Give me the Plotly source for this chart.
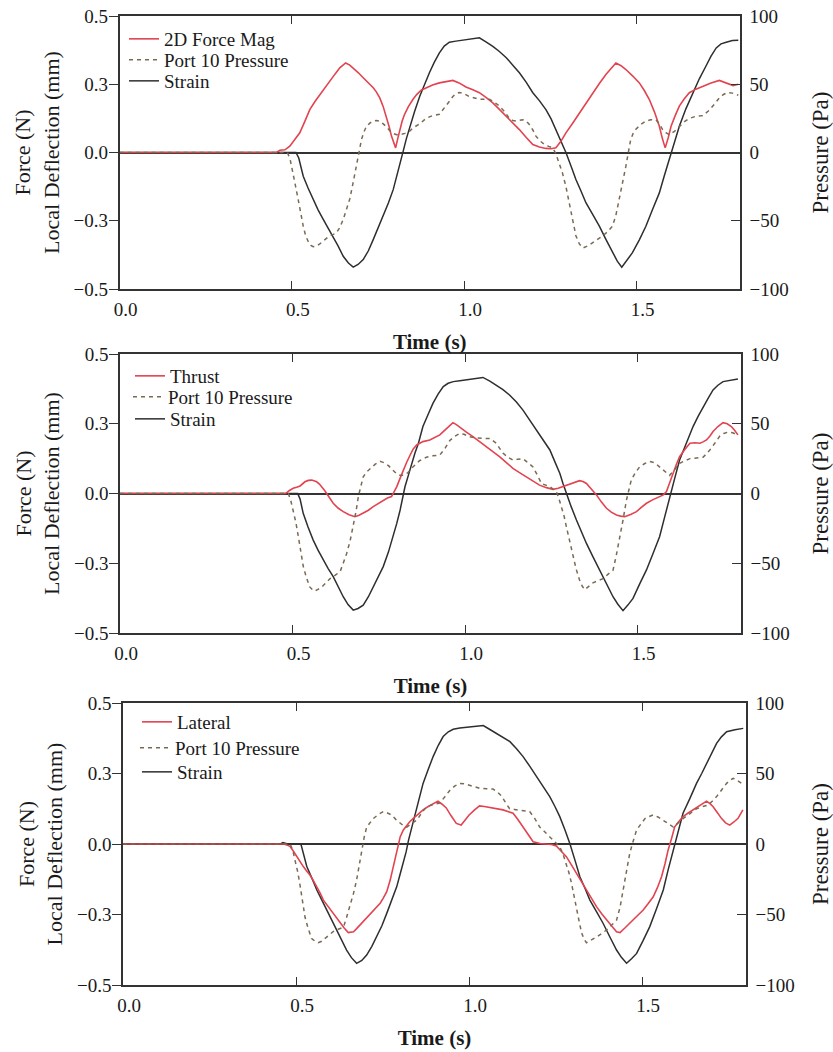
import plotly.graph_objects as go

# ---------------- data (time in s, force N / deflection mm, pressure Pa) ----------------
# Panel 1: 2D force magnitude
t_force_mag = [0.0, 0.455, 0.465, 0.48, 0.494, 0.508, 0.523, 0.538, 0.552, 0.567, 0.581, 0.596, 0.61, 0.625,
               0.639, 0.656, 0.668, 0.678, 0.693, 0.707, 0.722, 0.736, 0.745, 0.755, 0.765, 0.774, 0.782, 0.789,
               0.796, 0.801, 0.807, 0.813, 0.82, 0.827, 0.838, 0.851, 0.862, 0.875, 0.889, 0.908, 0.928, 0.947,
               0.967, 0.985, 1.005, 1.025, 1.044, 1.063, 1.083, 1.102, 1.122, 1.141, 1.16, 1.18, 1.199, 1.218,
               1.237, 1.252, 1.266, 1.28, 1.295, 1.315, 1.334, 1.353, 1.373, 1.392, 1.411, 1.426, 1.44, 1.455,
               1.469, 1.489, 1.508, 1.522, 1.537, 1.552, 1.566, 1.575, 1.583, 1.592, 1.6, 1.612, 1.624, 1.638,
               1.653, 1.672, 1.692, 1.716, 1.74, 1.76, 1.78, 1.795]
force_mag = [0.0, 0.0, 0.008, 0.01, 0.023, 0.045, 0.072, 0.115, 0.157, 0.187, 0.212, 0.238, 0.261, 0.287,
             0.31, 0.328, 0.32, 0.31, 0.292, 0.274, 0.256, 0.237, 0.222, 0.2, 0.168, 0.133, 0.095, 0.06,
             0.03, 0.017, 0.05, 0.084, 0.115, 0.14, 0.168, 0.194, 0.212, 0.228, 0.237, 0.247, 0.255, 0.26,
             0.264, 0.255, 0.24, 0.23, 0.219, 0.202, 0.182, 0.158, 0.133, 0.108, 0.084, 0.055, 0.029, 0.02,
             0.015, 0.014, 0.017, 0.04, 0.072, 0.108, 0.145, 0.182, 0.219, 0.253, 0.286, 0.308, 0.328, 0.318,
             0.304, 0.28, 0.255, 0.228, 0.194, 0.148, 0.096, 0.05, 0.017, 0.055, 0.096, 0.135, 0.17, 0.196,
             0.219, 0.232, 0.243, 0.255, 0.264, 0.255, 0.245, 0.25]

t_strain1 = [0.0, 0.512, 0.52, 0.533, 0.547, 0.562, 0.576, 0.591, 0.605, 0.62, 0.634, 0.649, 0.664, 0.678,
             0.692, 0.707, 0.722, 0.736, 0.75, 0.765, 0.78, 0.794, 0.803, 0.813, 0.823, 0.832, 0.842, 0.856,
             0.871, 0.885, 0.899, 0.913, 0.928, 0.942, 0.957, 0.976, 0.996, 1.02, 1.044, 1.063, 1.083, 1.102,
             1.122, 1.141, 1.16, 1.18, 1.199, 1.218, 1.237, 1.252, 1.266, 1.28, 1.295, 1.31, 1.324, 1.339,
             1.353, 1.373, 1.392, 1.411, 1.43, 1.444, 1.457, 1.472, 1.488, 1.508, 1.527, 1.546, 1.566, 1.58,
             1.595, 1.61, 1.624, 1.643, 1.663, 1.682, 1.701, 1.716, 1.731, 1.745, 1.76, 1.778, 1.795]
strain1 = [0.0, 0.0, -0.02, -0.087, -0.13, -0.172, -0.21, -0.245, -0.276, -0.306, -0.342, -0.38, -0.405, -0.42,
           -0.41, -0.392, -0.36, -0.319, -0.277, -0.233, -0.185, -0.136, -0.095, -0.05, 0.005, 0.05, 0.096, 0.15,
           0.206, 0.25, 0.292, 0.33, 0.365, 0.39, 0.404, 0.408, 0.411, 0.414, 0.42, 0.405, 0.389, 0.37,
           0.347, 0.32, 0.292, 0.257, 0.219, 0.19, 0.157, 0.123, 0.084, 0.045, 0.0, -0.05, -0.099, -0.142,
           -0.184, -0.228, -0.27, -0.318, -0.367, -0.398, -0.42, -0.395, -0.367, -0.32, -0.27, -0.21, -0.148, -0.087,
           -0.026, 0.035, 0.096, 0.16, 0.219, 0.27, 0.316, 0.353, 0.383, 0.398, 0.404, 0.41, 0.411]

t_pressure1 = [0.0, 0.487, 0.495, 0.504, 0.511, 0.518, 0.525, 0.533, 0.54, 0.547, 0.555, 0.562, 0.571, 0.581,
               0.595, 0.61, 0.62, 0.629, 0.639, 0.649, 0.658, 0.668, 0.677, 0.687, 0.695, 0.702, 0.709, 0.716,
               0.726, 0.736, 0.745, 0.755, 0.765, 0.774, 0.784, 0.794, 0.804, 0.813, 0.828, 0.842, 0.851, 0.871,
               0.889, 0.908, 0.928, 0.938, 0.947, 0.957, 0.967, 0.976, 0.986, 1.0, 1.015, 1.03, 1.044, 1.058,
               1.073, 1.087, 1.102, 1.117, 1.131, 1.141, 1.15, 1.16, 1.17, 1.18, 1.189, 1.199, 1.208, 1.22,
               1.232, 1.245, 1.257, 1.266, 1.276, 1.285, 1.295, 1.303, 1.31, 1.317, 1.324, 1.334, 1.344, 1.358,
               1.373, 1.387, 1.402, 1.416, 1.43, 1.44, 1.45, 1.46, 1.469, 1.476, 1.483, 1.49, 1.498, 1.512,
               1.527, 1.541, 1.556, 1.566, 1.575, 1.585, 1.595, 1.61, 1.624, 1.638, 1.653, 1.672, 1.692, 1.701,
               1.711, 1.726, 1.74, 1.752, 1.764, 1.778, 1.795]
pressure1 = [0, 0, -5, -15, -25, -34, -44, -54, -61, -65, -68, -69, -68.5, -67,
             -64, -61, -60, -59, -55, -49, -42, -34, -23, -10, 0, 9.5, 15, 19,
             21.5, 23, 23.5, 23, 21, 19, 16, 14, 13, 13, 14, 15.6, 18, 21,
             25, 27, 28, 31, 34, 37.5, 41, 43, 44, 43, 41, 40, 39, 39,
             39, 37, 34, 30, 25, 23.5, 23, 23.5, 24, 23, 20.5, 16.5, 12, 8.5,
             6, 4.5, 3.4, -1, -7.6, -15, -25, -35, -44, -53, -61, -67, -70, -68.5,
             -66, -63.5, -61, -58, -54, -46, -34, -22, -10, 0, 9.5, 14, 17, 20.5,
             23, 24, 24, 21, 17, 14.5, 13, 15.5, 19, 22.5, 25, 26.5, 27, 29,
             31, 35.5, 40, 42.5, 44, 43.5, 42]

# Panel 2: thrust
t_thrust = [0.0, 0.48, 0.49, 0.502, 0.512, 0.522, 0.536, 0.546, 0.556, 0.563, 0.57, 0.578, 0.585, 0.592,
            0.599, 0.608, 0.618, 0.632, 0.647, 0.664, 0.681, 0.693, 0.705, 0.72, 0.734, 0.749, 0.763, 0.775,
            0.787, 0.795, 0.802, 0.812, 0.821, 0.831, 0.841, 0.85, 0.86, 0.878, 0.898, 0.912, 0.927, 0.937,
            0.946, 0.956, 0.965, 0.975, 0.985, 1.004, 1.023, 1.043, 1.062, 1.081, 1.1, 1.12, 1.139, 1.158,
            1.178, 1.197, 1.216, 1.236, 1.255, 1.27, 1.284, 1.298, 1.313, 1.332, 1.342, 1.352, 1.366, 1.381,
            1.395, 1.41, 1.424, 1.439, 1.451, 1.463, 1.48, 1.497, 1.511, 1.526, 1.545, 1.565, 1.575, 1.584,
            1.594, 1.603, 1.612, 1.622, 1.637, 1.652, 1.667, 1.681, 1.69, 1.7, 1.71, 1.719, 1.733, 1.748,
            1.76, 1.772, 1.782, 1.791]
thrust = [0.0, 0.0, 0.01, 0.019, 0.022, 0.027, 0.042, 0.047, 0.048, 0.046, 0.042, 0.034, 0.025, 0.013,
          0.0, -0.017, -0.035, -0.052, -0.065, -0.076, -0.083, -0.078, -0.071, -0.06, -0.047, -0.035, -0.023, -0.016,
          -0.011, 0.005, 0.024, 0.055, 0.084, 0.112, 0.138, 0.16, 0.174, 0.186, 0.192, 0.2, 0.21, 0.222,
          0.233, 0.245, 0.254, 0.247, 0.237, 0.22, 0.204, 0.186, 0.168, 0.15, 0.132, 0.111, 0.09, 0.075,
          0.06, 0.044, 0.03, 0.021, 0.015, 0.019, 0.025, 0.032, 0.039, 0.046, 0.043, 0.036, 0.016, -0.005,
          -0.03, -0.053, -0.067, -0.077, -0.081, -0.083, -0.075, -0.065, -0.05, -0.035, -0.022, -0.011, -0.005, 0.007,
          0.038, 0.072, 0.102, 0.132, 0.158, 0.18, 0.182, 0.18, 0.185, 0.192, 0.206, 0.222, 0.24, 0.254,
          0.25, 0.24, 0.226, 0.21]

t_strain2 = [0.0, 0.515, 0.522, 0.531, 0.545, 0.56, 0.574, 0.589, 0.603, 0.618, 0.632, 0.647, 0.661, 0.676,
             0.69, 0.705, 0.72, 0.734, 0.749, 0.763, 0.778, 0.792, 0.802, 0.812, 0.819, 0.826, 0.836, 0.845,
             0.855, 0.865, 0.878, 0.893, 0.907, 0.922, 0.937, 0.951, 0.966, 0.985, 1.004, 1.028, 1.052, 1.072,
             1.091, 1.11, 1.129, 1.149, 1.168, 1.187, 1.207, 1.226, 1.246, 1.26, 1.275, 1.284, 1.294, 1.308,
             1.323, 1.337, 1.352, 1.371, 1.39, 1.41, 1.429, 1.443, 1.458, 1.472, 1.487, 1.506, 1.526, 1.545,
             1.564, 1.579, 1.593, 1.608, 1.622, 1.642, 1.661, 1.676, 1.69, 1.705, 1.719, 1.733, 1.748, 1.77,
             1.791]
strain2 = [0.0, 0.0, -0.02, -0.071, -0.12, -0.167, -0.203, -0.238, -0.268, -0.298, -0.334, -0.37, -0.398, -0.418,
           -0.412, -0.4, -0.37, -0.334, -0.3, -0.262, -0.21, -0.155, -0.108, -0.059, -0.018, 0.024, 0.066, 0.108,
           0.145, 0.18, 0.24, 0.283, 0.323, 0.356, 0.383, 0.395, 0.401, 0.404, 0.407, 0.411, 0.416, 0.403,
           0.389, 0.372, 0.353, 0.328, 0.299, 0.265, 0.228, 0.193, 0.156, 0.115, 0.072, 0.036, 0.0, -0.048,
           -0.095, -0.137, -0.179, -0.227, -0.274, -0.322, -0.37, -0.397, -0.42, -0.4, -0.376, -0.325, -0.274, -0.215,
           -0.155, -0.083, -0.011, 0.055, 0.12, 0.18, 0.24, 0.277, 0.311, 0.342, 0.371, 0.388, 0.401, 0.406,
           0.41]

t_pressure2 = [0.0, 0.488, 0.495, 0.502, 0.51, 0.517, 0.524, 0.531, 0.54, 0.55, 0.558, 0.565, 0.575, 0.585,
               0.597, 0.609, 0.624, 0.638, 0.647, 0.657, 0.667, 0.676, 0.684, 0.691, 0.698, 0.705, 0.715, 0.725,
               0.74, 0.754, 0.766, 0.778, 0.79, 0.802, 0.812, 0.821, 0.835, 0.849, 0.868, 0.888, 0.907, 0.927,
               0.941, 0.956, 0.97, 0.985, 0.997, 1.009, 1.026, 1.043, 1.058, 1.072, 1.081, 1.091, 1.1, 1.11,
               1.124, 1.139, 1.153, 1.168, 1.183, 1.197, 1.21, 1.222, 1.234, 1.246, 1.256, 1.265, 1.272, 1.279,
               1.287, 1.294, 1.303, 1.313, 1.322, 1.332, 1.34, 1.347, 1.359, 1.371, 1.385, 1.4, 1.414, 1.429,
               1.438, 1.448, 1.458, 1.468, 1.475, 1.482, 1.494, 1.506, 1.521, 1.535, 1.55, 1.564, 1.578, 1.593,
               1.607, 1.622, 1.637, 1.652, 1.671, 1.69, 1.7, 1.709, 1.724, 1.738, 1.75, 1.762, 1.776, 1.791]
pressure2 = [0, 0, -5, -12, -21, -31, -42, -52, -60, -67, -69, -70, -68.5, -67,
             -64, -61, -58.5, -56, -50, -43, -34, -24, -13, -2, 6, 12, 15.5, 18,
             21, 23, 22, 20, 17, 14, 13, 13, 15, 19, 23.5, 26, 27, 27.6,
             32, 38, 41, 43, 42.5, 41, 40, 39.5, 39.5, 39.5, 38, 36, 32.5, 29,
             26, 24, 24.5, 25, 22, 19, 13, 7, 6, 5, 3, 1.3, -3.5, -9.4,
             -16, -24, -34, -45, -54, -62, -66.5, -69, -66.5, -64, -62.5, -61, -58, -55,
             -45, -33, -19, -4.7, 3, 9.7, 15, 19, 21.5, 23, 22, 19, 16, 13,
             17, 21.6, 23.5, 25, 25.5, 26, 28.5, 31, 36, 41, 43, 44, 43.5, 42]

# Panel 3: lateral
t_lateral = [0.0, 0.465, 0.475, 0.483, 0.492, 0.502, 0.511, 0.521, 0.53, 0.54, 0.55, 0.56, 0.57, 0.579,
             0.593, 0.608, 0.618, 0.627, 0.639, 0.651, 0.658, 0.666, 0.675, 0.685, 0.7, 0.714, 0.729, 0.743,
             0.752, 0.762, 0.772, 0.781, 0.791, 0.801, 0.81, 0.82, 0.829, 0.839, 0.853, 0.867, 0.882, 0.896,
             0.91, 0.922, 0.934, 0.948, 0.963, 0.977, 0.988, 1.0, 1.015, 1.03, 1.044, 1.059, 1.078, 1.098,
             1.112, 1.127, 1.141, 1.156, 1.17, 1.185, 1.205, 1.224, 1.238, 1.252, 1.267, 1.281, 1.296, 1.31,
             1.325, 1.339, 1.354, 1.368, 1.383, 1.397, 1.412, 1.426, 1.436, 1.45, 1.464, 1.484, 1.503, 1.517,
             1.532, 1.544, 1.556, 1.566, 1.575, 1.585, 1.594, 1.606, 1.618, 1.633, 1.647, 1.657, 1.667, 1.677,
             1.686, 1.696, 1.705, 1.717, 1.729, 1.741, 1.753, 1.765, 1.777, 1.791]
lateral = [0.0, 0.0, -0.004, -0.009, -0.025, -0.045, -0.062, -0.08, -0.095, -0.11, -0.13, -0.151, -0.175, -0.199,
           -0.222, -0.246, -0.264, -0.281, -0.298, -0.314, -0.313, -0.311, -0.3, -0.287, -0.267, -0.246, -0.228, -0.21,
           -0.192, -0.169, -0.128, -0.08, -0.027, 0.026, 0.05, 0.067, 0.08, 0.091, 0.106, 0.121, 0.133, 0.144,
           0.152, 0.141, 0.128, 0.1, 0.073, 0.067, 0.085, 0.103, 0.12, 0.135, 0.133, 0.13, 0.126, 0.121,
           0.115, 0.109, 0.087, 0.061, 0.034, 0.008, 0.002, 0.0, -0.002, -0.007, -0.025, -0.045, -0.075, -0.104,
           -0.134, -0.163, -0.193, -0.222, -0.247, -0.27, -0.291, -0.311, -0.314, -0.298, -0.281, -0.258, -0.234, -0.212,
           -0.187, -0.155, -0.116, -0.07, -0.021, 0.02, 0.061, 0.08, 0.097, 0.11, 0.121, 0.13, 0.138, 0.146,
           0.152, 0.143, 0.132, 0.112, 0.091, 0.075, 0.067, 0.078, 0.091, 0.121]

t_strain3 = [0.0, 0.455, 0.462, 0.47, 0.476, 0.514, 0.521, 0.531, 0.546, 0.56, 0.575, 0.589, 0.604, 0.618,
             0.632, 0.646, 0.66, 0.675, 0.69, 0.704, 0.719, 0.733, 0.748, 0.762, 0.777, 0.791, 0.8, 0.81,
             0.818, 0.825, 0.835, 0.844, 0.858, 0.867, 0.882, 0.896, 0.911, 0.925, 0.94, 0.954, 0.973, 0.993,
             1.017, 1.041, 1.06, 1.079, 1.098, 1.118, 1.137, 1.156, 1.175, 1.195, 1.214, 1.233, 1.248, 1.262,
             1.277, 1.291, 1.306, 1.32, 1.335, 1.349, 1.368, 1.387, 1.406, 1.426, 1.44, 1.455, 1.47, 1.484,
             1.503, 1.522, 1.542, 1.561, 1.575, 1.59, 1.604, 1.618, 1.638, 1.657, 1.672, 1.686, 1.7, 1.715,
             1.729, 1.744, 1.768, 1.792]
strain3 = [0.0, 0.0, 0.005, 0.003, 0.0, 0.0, -0.03, -0.08, -0.122, -0.163, -0.2, -0.234, -0.27, -0.305,
           -0.34, -0.376, -0.403, -0.423, -0.413, -0.394, -0.363, -0.329, -0.29, -0.246, -0.2, -0.151, -0.11, -0.069,
           -0.028, 0.014, 0.062, 0.109, 0.168, 0.215, 0.265, 0.31, 0.35, 0.381, 0.398, 0.407, 0.411, 0.414,
           0.417, 0.42, 0.406, 0.392, 0.378, 0.363, 0.338, 0.31, 0.276, 0.239, 0.204, 0.168, 0.133, 0.097,
           0.05, 0.002, -0.058, -0.116, -0.158, -0.199, -0.24, -0.281, -0.328, -0.376, -0.402, -0.423, -0.406, -0.388,
           -0.342, -0.293, -0.228, -0.163, -0.092, -0.021, 0.045, 0.109, 0.162, 0.215, 0.25, 0.286, 0.322, 0.357,
           0.38, 0.398, 0.405, 0.41]

t_pressure3 = [0.0, 0.483, 0.49, 0.497, 0.505, 0.512, 0.519, 0.526, 0.535, 0.545, 0.555, 0.564, 0.574, 0.584,
               0.596, 0.608, 0.622, 0.637, 0.646, 0.656, 0.666, 0.675, 0.683, 0.69, 0.697, 0.704, 0.714, 0.723,
               0.738, 0.752, 0.764, 0.776, 0.788, 0.801, 0.81, 0.82, 0.834, 0.849, 0.863, 0.877, 0.896, 0.915,
               0.93, 0.944, 0.958, 0.973, 0.985, 0.997, 1.014, 1.031, 1.05, 1.069, 1.081, 1.094, 1.105, 1.117,
               1.131, 1.146, 1.16, 1.175, 1.19, 1.204, 1.219, 1.233, 1.248, 1.262, 1.271, 1.281, 1.288, 1.296,
               1.303, 1.31, 1.318, 1.325, 1.332, 1.339, 1.354, 1.368, 1.383, 1.397, 1.412, 1.426, 1.436, 1.445,
               1.454, 1.464, 1.474, 1.484, 1.496, 1.508, 1.52, 1.532, 1.547, 1.561, 1.575, 1.59, 1.604, 1.618,
               1.638, 1.657, 1.674, 1.691, 1.703, 1.715, 1.73, 1.744, 1.753, 1.763, 1.775, 1.787]
pressure3 = [0, 0, -4, -11, -20, -30, -41, -52, -60, -67, -69, -70, -69, -67,
             -64.5, -62, -60.5, -59, -52, -44, -35, -25.5, -14, -4, 5, 12, 15.5, 18,
             21, 23, 22, 20.6, 17.5, 14.7, 13, 12, 14.5, 17, 22, 26.5, 28, 29,
             33.5, 38, 41, 43, 42.8, 42, 41, 39.5, 39.2, 39, 37, 34, 29.5, 25,
             24.5, 24, 23.5, 23, 18, 12, 8.5, 5, 1.5, -2, -7, -14, -20, -28,
             -37, -47, -55, -63, -67.5, -70, -68, -66, -63.5, -61, -57.5, -54, -45, -33,
             -20, -6.6, 2, 10, 14, 18, 19.5, 20.6, 19, 17, 14.5, 12, 15, 18,
             21.5, 25, 26.5, 27.6, 30.5, 33.6, 38.5, 43, 45, 46.6, 45, 43]

force_names = ["2D Force Mag", "Thrust", "Lateral"]
left_tick_vals = [-0.5, -0.25, 0.0, 0.25, 0.5]
left_tick_text = ["\u22120.5", "\u22120.3", "0.0", "0.3", "0.5"]
right_tick_vals = [-100, -50, 0, 50, 100]
time_tick_vals = [0.0, 0.5, 1.0, 1.5]
time_tick_text = ["0.0", "0.5", "1.0", "1.5"]

panels = [
    (t_force_mag, force_mag, t_strain1, strain1, t_pressure1, pressure1),
    (t_thrust, thrust, t_strain2, strain2, t_pressure2, pressure2),
    (t_lateral, lateral, t_strain3, strain3, t_pressure3, pressure3),
]

# ---------------- styling / geometry ----------------
W, H = 833, 1052
FONT = "Liberation Serif, Times New Roman, serif"
RED = "#e2434f"
PRESS = "#7a6a52"
STRAIN = "#2e2e2e"
AXIS = "#333333"
TXT = "#1a1a1a"

# plot-area boxes in pixels: (left, right, top, bottom)
boxes = [(119.5, 740, 16, 289), (120, 741, 354, 633), (123, 746, 703, 985)]
# one legend entry per row: (left px, row centre px) for red / pressure / strain
legend_rows = [
    [(124, 39), (124, 60), (124, 81)],
    [(130, 376), (128, 397), (130, 419)],
    [(137, 722), (135, 748), (137, 772)],
]

fig = go.Figure()
layout = dict(
    width=W, height=H,
    margin=dict(l=0, r=0, t=0, b=0, autoexpand=False),
    paper_bgcolor="white", plot_bgcolor="white",
    font=dict(family=FONT, size=19, color=TXT),
    showlegend=True,
)

for i, (tf, f, ts, s, tp, p) in enumerate(panels):
    k = i + 1
    xa = "x" if k == 1 else f"x{k}"
    yl = "y" if k == 1 else f"y{2 * k - 1}"
    yr = f"y{2 * k}"
    legs = ["legend" if (3 * i + j) == 0 else f"legend{3 * i + j + 1}" for j in range(3)]

    fig.add_trace(go.Scatter(x=tp, y=p, name="Port 10 Pressure", mode="lines",
                             line=dict(color=PRESS, width=1.5, dash="4px,4px"),
                             xaxis=xa, yaxis=yr, legend=legs[1]))
    fig.add_trace(go.Scatter(x=ts, y=s, name="Strain", mode="lines",
                             line=dict(color=STRAIN, width=1.5), xaxis=xa, yaxis=yl, legend=legs[2]))
    fig.add_trace(go.Scatter(x=tf, y=f, name=force_names[i], mode="lines",
                             line=dict(color=RED, width=1.6), xaxis=xa, yaxis=yl, legend=legs[0]))

    l, r, t, b = boxes[i]
    xdom = [l / W, r / W]
    ydom = [1 - b / H, 1 - t / H]

    xkey = "xaxis" if k == 1 else f"xaxis{k}"
    ylkey = "yaxis" if k == 1 else f"yaxis{2 * k - 1}"
    yrkey = f"yaxis{2 * k}"

    layout[xkey] = dict(
        domain=xdom, anchor=yl, range=[0, 1.8], automargin=False,
        tickvals=time_tick_vals, ticktext=time_tick_text,
        ticks="inside", ticklen=8, tickwidth=1.3, tickcolor=AXIS,
        showline=True, linecolor=AXIS, linewidth=1.6, mirror="ticks",
        showgrid=False, zeroline=False,
        tickfont=dict(size=19), ticklabelshift=6, ticklabelstandoff=2,
        title=dict(text="<b>Time (s)</b>", font=dict(size=21), standoff=16),
    )
    layout[ylkey] = dict(
        domain=ydom, anchor=xa, range=[-0.5, 0.5], automargin=False,
        tickvals=left_tick_vals, ticktext=left_tick_text,
        ticks="outside", ticklen=9, tickwidth=1.3, tickcolor=AXIS,
        showline=True, linecolor=AXIS, linewidth=1.6,
        showgrid=False, zeroline=True, zerolinecolor=AXIS, zerolinewidth=1.6,
        tickfont=dict(size=19), ticklabelstandoff=-3,
        title=dict(text="Force (N)<br>Local Deflection (mm)", font=dict(size=22), standoff=8),
    )
    layout[yrkey] = dict(
        domain=ydom, anchor=xa, overlaying=yl, side="right", range=[-100, 100], automargin=False,
        tickvals=right_tick_vals,
        ticks="inside", ticklen=9, tickwidth=1.3, tickcolor=AXIS,
        showline=True, linecolor=AXIS, linewidth=1.6,
        showgrid=False, zeroline=False,
        tickfont=dict(size=19), ticklabelstandoff=4,
        title=dict(text="Pressure (Pa)", font=dict(size=23), standoff=25),
    )

    for j in range(3):
        lx, ly = legend_rows[i][j]
        layout[legs[j]] = dict(
            x=lx / W, y=1 - ly / H, xanchor="left", yanchor="middle",
            bgcolor="rgba(0,0,0,0)", borderwidth=0,
            font=dict(family=FONT, size=19, color=TXT),
            itemwidth=30,
        )

fig.update_layout(**layout)
fig.write_html("out.html")
